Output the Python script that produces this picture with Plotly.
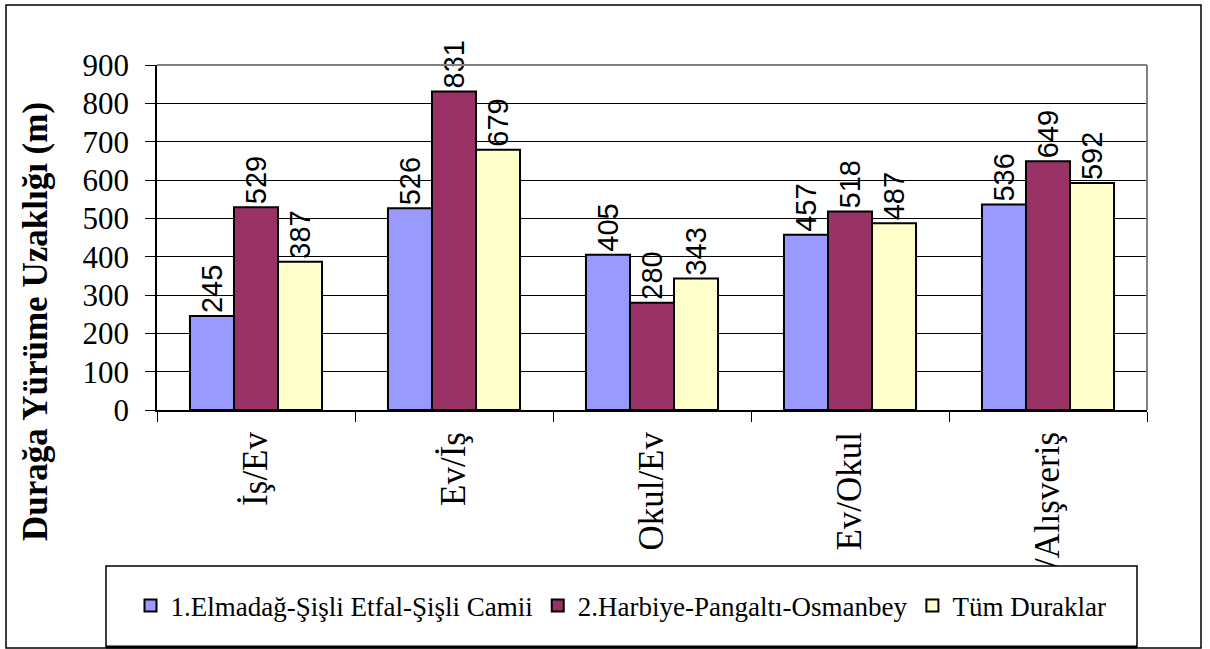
import plotly.graph_objects as go

categories = ["İş/Ev", "Ev/İş", "Okul/Ev", "Ev/Okul", "Ev/Alışveriş"]
series_names = ["1.Elmadağ-Şişli Etfal-Şişli Camii", "2.Harbiye-Pangaltı-Osmanbey", "Tüm Duraklar"]
elmadag = [245, 526, 405, 457, 536]
harbiye = [529, 831, 280, 518, 649]
tum = [387, 679, 343, 487, 592]
y_ticks = [0, 100, 200, 300, 400, 500, 600, 700, 800, 900]
y_title = "Durağa Yürüme Uzaklığı (m)"

colors = ["#9999FF", "#993366", "#FFFFCC"]
SERIF = "Liberation Serif"
SANS = "Liberation Sans"

fig = go.Figure()
for name, vals, col in zip(series_names, [elmadag, harbiye, tum], colors):
    fig.add_trace(go.Bar(
        x=categories, y=vals, name=name,
        marker=dict(color=col, line=dict(color="black", width=2)),
        text=[str(v) for v in vals], textposition="outside", textangle=-90,
        textfont=dict(family=SANS, size=29, color="black"),
        cliponaxis=False, constraintext="none",
    ))

W, H = 1210, 649
L, R, T, B = 157, 1147, 65, 410
pw, ph = R - L, B - T

def px(x):
    return (x - L) / pw

def py(y):
    return (B - y) / ph

shapes = [
    # outer frame
    dict(type="rect", xref="paper", yref="paper", x0=px(6), x1=px(1201), y0=py(648), y1=py(5),
         line=dict(color="black", width=1.5), layer="below"),
    # plot area top / right gray border
    dict(type="line", xref="paper", yref="paper", x0=0, x1=1, y0=1, y1=1,
         line=dict(color="#808080", width=2), layer="above"),
    dict(type="line", xref="paper", yref="paper", x0=1, x1=1, y0=0, y1=1,
         line=dict(color="#808080", width=2), layer="above"),
    # legend box
    dict(type="rect", xref="paper", yref="paper", x0=px(106), x1=px(1137), y0=py(647), y1=py(566),
         line=dict(color="black", width=1.5), fillcolor="white", layer="above"),
    dict(type="line", xref="paper", yref="paper", x0=px(106), x1=px(1137), y0=py(647), y1=py(647),
         line=dict(color="black", width=3), layer="above"),
]

fig.update_layout(
    width=W, height=H,
    margin=dict(l=L, r=W - R, t=T, b=H - B, pad=0, autoexpand=False),
    paper_bgcolor="white", plot_bgcolor="white",
    barmode="group", bargap=0.333, bargroupgap=0,
    font=dict(family=SERIF, color="black"),
    showlegend=True,
    legend=dict(orientation="h", xref="container", yref="container",
                x=621 / W, xanchor="center", y=1 - 606 / H, yanchor="middle",
                bgcolor="rgba(0,0,0,0)", borderwidth=0,
                font=dict(family=SERIF, size=27, color="black"),
                traceorder="normal"),
    shapes=shapes,
    annotations=[dict(text="<b>" + y_title + "</b>", xref="paper", yref="paper",
                      x=px(35), y=py(322), xanchor="center", yanchor="middle",
                      textangle=-90, showarrow=False,
                      font=dict(family=SERIF, size=35, color="black"))],
)
fig.update_yaxes(range=[0, 900], tickvals=y_ticks, ticktext=[str(v) for v in y_ticks],
                 showgrid=True, gridcolor="black", gridwidth=1,
                 showline=True, linecolor="black", linewidth=1.5,
                 ticks="outside", ticklen=10, tickcolor="black", ticklabelstandoff=10,
                 tickfont=dict(family=SERIF, size=31, color="black"),
                 zeroline=False, fixedrange=True, automargin=False)
fig.update_xaxes(showline=True, linecolor="black", linewidth=2,
                 ticks="outside", ticklen=10, tickcolor="black", tickson="boundaries",
                 ticklabelstandoff=6,
                 tickangle=-90, tickfont=dict(family=SERIF, size=35, color="black"),
                 showgrid=False, fixedrange=True, automargin=False)

fig.write_html("out.html", config={"displayModeBar": False},
               post_script="document.body.style.margin='0';document.body.style.overflow='hidden';")
